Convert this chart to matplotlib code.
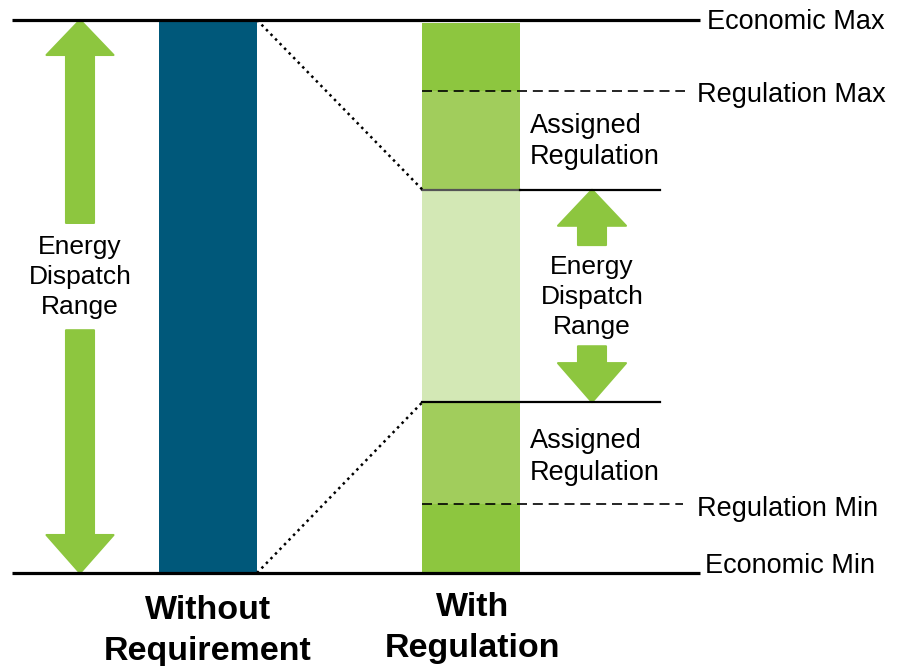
import matplotlib
matplotlib.use("Agg")
import matplotlib.pyplot as plt

plt.rcParams['font.family'] = ['Liberation Sans', 'DejaVu Sans']

# output levels, in % of the range between economic min and economic max
econ_min = 0.0
reg_min = 12.5
energy_lo = 30.9
energy_hi = 69.3
reg_max = 87.2
econ_max = 100.0

# bar columns (x centre, width) in figure pixel units
bar_x = [208, 471.5]
bar_w = 98
bar_labels = ['Without\nRequirement', 'With\nRegulation']

# stacked segments of the "with regulation" bar, bottom to top
seg_bottoms = [econ_min, reg_min, energy_lo, energy_hi, reg_max]
seg_tops = [reg_min, energy_lo, energy_hi, reg_max, 99.5]
seg_colors = ['#8DC63F', '#A1CD5C', '#D3E8B5', '#A1CD5C', '#8DC63F']

level_labels = ['Economic Max', 'Regulation Max', 'Regulation Min', 'Economic Min']

fig = plt.figure(figsize=(9.03, 6.66), dpi=100)
ax = fig.add_axes([0, 0, 1, 1])
px = 5.53  # pixels per % unit
ax.set_xlim(0, 903)
ax.set_ylim(econ_min - 93 / px, econ_max + 20 / px)
ax.axis('off')

# without requirement bar
ax.bar(bar_x[0], econ_max - econ_min, bottom=econ_min, width=bar_w, color='#00587A')

# with regulation bar
heights = [t - b for b, t in zip(seg_bottoms, seg_tops)]
ax.bar([bar_x[1]] * len(heights), heights, bottom=seg_bottoms, width=bar_w, color=seg_colors)

right0 = bar_x[0] + bar_w / 2
left1 = bar_x[1] - bar_w / 2

# economic limits
ax.plot([12, 700], [econ_max, econ_max], color='black', lw=2.3, solid_capstyle='butt')
ax.plot([12, 700], [econ_min, econ_min], color='black', lw=2.3, solid_capstyle='butt')
# energy dispatch range limits
ax.plot([left1, bar_x[1] + bar_w / 2], [energy_hi, energy_hi], color='#555555', lw=1.6)
ax.plot([bar_x[1] + bar_w / 2, 660], [energy_hi, energy_hi], color='black', lw=1.6)
ax.plot([left1, 660], [energy_lo, energy_lo], color='black', lw=1.6)
# regulation limits
ax.plot([left1, 685], [reg_max, reg_max], color='black', lw=1.2, ls=(0, (6, 3.5)))
ax.plot([left1, 683], [reg_min, reg_min], color='black', lw=1.2, ls=(0, (6, 3.5)))
# dotted connectors
ax.plot([right0, left1], [econ_max, energy_hi], color='black', lw=1.8, ls=(0, (1, 1.6)))
ax.plot([right0, left1], [econ_min, energy_lo], color='black', lw=1.8, ls=(0, (1, 1.6)))

green = '#8DC63F'
def varrow(x, y0, y1, head_len, shaft=28, head=67):
    ax.arrow(x, y0, 0, y1 - y0, width=shaft, head_width=head, head_length=head_len,
             length_includes_head=True, color=green, lw=1.5, joinstyle='round')

varrow(80, 63.3, econ_max, 35 / px)
varrow(80, 43.9, econ_min, 38 / px)
varrow(592, 59.3, energy_hi, 36 / px, head=68)
varrow(592, 41.0, energy_lo, 39 / px, head=68)

fs = 19.5
ax.text(80, 53.5, 'Energy\nDispatch\nRange', ha='center', va='center', fontsize=19, linespacing=1.33)
ax.text(592, 49.9, 'Energy\nDispatch\nRange', ha='center', va='center', fontsize=19, linespacing=1.33)
ax.text(530, 78.0, 'Assigned\nRegulation', ha='left', va='center', fontsize=fs, linespacing=1.27)
ax.text(530, 21.0, 'Assigned\nRegulation', ha='left', va='center', fontsize=fs, linespacing=1.27)

for lab, y, x in zip(level_labels, [99.6, 86.5, 11.5, 1.2], [707, 697, 697, 705]):
    ax.text(x, y, lab, ha='left', va='center', fontsize=fs)

ax.text(bar_x[0], -10.55, bar_labels[0], ha='center', va='center', fontsize=24.5,
        fontweight='bold', linespacing=1.42)
ax.text(473, -9.95, bar_labels[1], ha='center', va='center', fontsize=24.5,
        fontweight='bold', linespacing=1.42)

fig.savefig('out.png', dpi=100)
